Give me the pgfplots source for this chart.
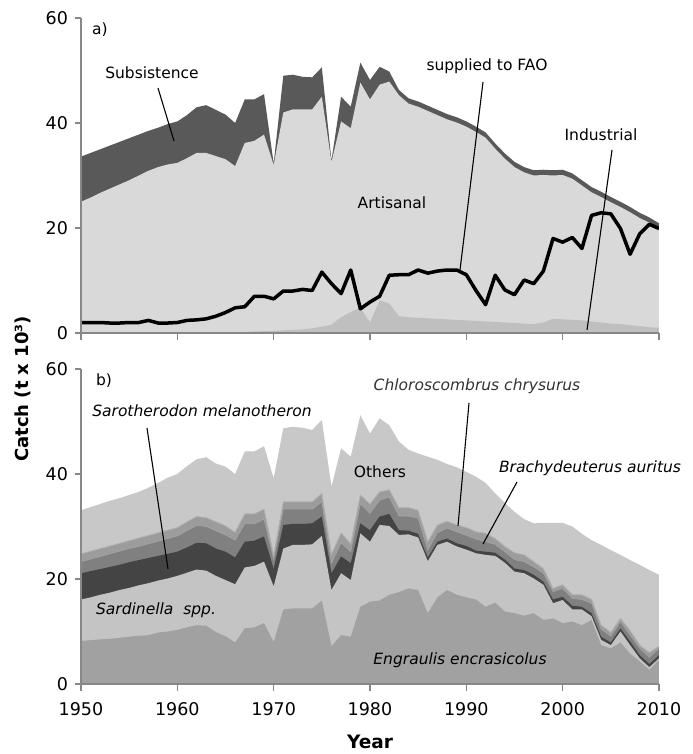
\documentclass[border=0pt]{standalone}
\usepackage{fontspec}
\setmainfont{DejaVu Sans}
\usepackage{pgfplots}
\usepackage{pgfplotstable}
\pgfplotsset{compat=1.18}

\definecolor{subs}{HTML}{595959}
\definecolor{arti}{HTML}{D9D9D9}
\definecolor{indu}{HTML}{BFBFBF}
\definecolor{oth}{HTML}{C8C8C8}
\definecolor{lgt}{HTML}{9C9C9C}
\definecolor{med}{HTML}{808080}
\definecolor{drk}{HTML}{444444}
\definecolor{sard}{HTML}{C4C4C4}
\definecolor{engr}{HTML}{A1A1A1}
\definecolor{axgray}{HTML}{878787}

\newcommand\lbl{\fontsize{15.5bp}{18bp}\selectfont}

% panel a: total, artisanal top (industrial+artisanal), industrial, supplied to FAO
\pgfplotstableread{
year T A I F
1950 33.6 25.0 0 2.0
1951 34.3 25.8 0 2.0
1952 35.0 26.7 0 2.0
1953 35.7 27.5 0 1.9
1954 36.4 28.3 0 1.9
1955 37.1 29.1 0 2.0
1956 37.8 30.0 0 2.0
1957 38.5 30.9 0 2.4
1958 39.1 31.6 0 1.9
1959 39.8 32.1 0 1.9
1960 40.3 32.4 0 2.0
1961 41.5 33.3 0 2.4
1962 43.0 34.3 0 2.5
1963 43.4 34.3 0 2.7
1964 42.5 33.7 0 3.2
1965 41.6 33.1 0.05 3.9
1966 40.0 31.8 0.1 4.8
1967 44.5 36.2 0.2 5.0
1968 44.5 36.6 0.3 7.0
1969 45.5 37.8 0.35 7.0
1970 32.3 32.0 0.4 6.5
1971 49.0 42.0 0.5 8.0
1972 49.2 42.6 0.6 8.0
1973 48.8 42.6 0.7 8.3
1974 48.7 42.6 0.9 8.1
1975 50.6 45.0 1.2 11.6
1976 32.9 32.6 1.6 9.4
1977 45.0 40.3 3.0 7.5
1978 43.1 39.0 4.0 12.0
1979 51.5 47.7 4.8 4.6
1980 48.2 44.5 2.0 5.9
1981 50.7 47.3 6.2 7.0
1982 49.8 47.9 5.6 11.0
1983 46.3 45.3 3.2 11.1
1984 44.7 43.7 3.0 11.1
1985 44.1 43.1 2.9 12.0
1986 43.3 42.3 2.8 11.4
1987 42.5 41.5 2.7 11.8
1988 41.7 40.7 2.6 12.0
1989 41.1 40.1 2.5 12.0
1990 40.3 39.3 2.4 11.1
1991 39.3 38.3 2.3 8.1
1992 38.2 37.2 2.2 5.4
1993 36.1 35.1 2.1 11.0
1994 34.2 33.2 2.0 8.2
1995 32.6 31.6 1.9 7.3
1996 31.6 30.6 1.8 10.1
1997 31.0 30.0 1.7 9.4
1998 31.1 30.1 2.0 11.8
1999 31.0 30.0 2.7 18.0
2000 31.1 30.1 2.6 17.3
2001 30.4 29.4 2.5 18.2
2002 29.1 28.1 2.4 16.1
2003 27.8 26.8 2.2 22.4
2004 26.9 25.9 2.0 22.9
2005 25.9 24.9 1.8 22.7
2006 25.0 24.0 1.7 19.9
2007 24.0 23.0 1.5 15.0
2008 22.9 21.9 1.3 18.9
2009 22.0 21.0 1.1 20.7
2010 20.9 19.9 1.0 19.9
}\tabA

% panel b: cumulative tops (Others total, Chloroscombrus, Brachydeuterus, Sarotherodon, Sardinella, Engraulis)
\pgfplotstableread{
year TB L M D Sd E
1950 33.1 24.8 23.3 21.1 16.1 8.2
1951 33.7 25.3 23.8 21.5 16.5 8.35
1952 34.3 25.8 24.3 21.9 17.0 8.5
1953 34.9 26.3 24.8 22.3 17.4 8.6
1954 35.4 26.8 25.3 22.7 17.9 8.8
1955 36.0 27.3 25.8 23.2 18.3 9.0
1956 36.6 27.8 26.2 23.6 18.8 9.2
1957 37.4 28.3 26.7 24.0 19.2 9.3
1958 38.3 28.8 27.2 24.4 19.7 9.8
1959 39.3 29.3 27.7 24.8 20.1 10.0
1960 40.0 29.8 28.2 25.2 20.6 10.3
1961 41.5 30.9 29.2 26.0 21.2 10.8
1962 42.8 31.9 30.2 26.9 21.8 11.2
1963 43.2 31.7 30.0 26.8 21.6 11.1
1964 42.0 30.9 29.2 25.8 20.6 9.9
1965 41.4 30.1 28.4 25.2 19.8 9.1
1966 40.0 28.9 27.4 24.1 19.0 7.9
1967 44.3 32.4 30.5 27.1 22.2 10.6
1968 44.3 32.4 30.5 27.3 22.5 10.8
1969 45.3 33.3 31.4 28.1 23.3 11.6
1970 39.2 24.5 23.8 21.9 18.6 8.0
1971 48.7 34.7 33.3 30.3 25.8 14.2
1972 49.0 34.7 33.3 30.5 26.5 14.4
1973 48.8 34.7 33.3 30.5 26.5 14.4
1974 48.4 34.7 33.3 30.6 26.6 14.4
1975 50.3 36.3 34.7 31.9 28.2 15.9
1976 37.6 24.7 23.0 21.1 17.9 7.2
1977 44.9 28.8 26.9 24.3 21.1 9.3
1978 43.3 26.7 25.2 23.0 19.8 9.0
1979 51.2 36.0 34.3 30.6 28.7 14.7
1980 47.7 34.3 32.5 29.3 27.1 15.7
1981 50.6 36.6 35.0 31.9 30.3 15.9
1982 49.3 37.0 35.6 32.4 30.1 17.0
1983 46.2 33.6 32.0 29.3 28.4 17.5
1984 44.6 33.6 32.0 29.2 28.5 18.2
1985 43.9 33.1 31.6 28.6 27.9 17.9
1986 43.3 27.1 25.5 24.1 23.4 13.5
1987 42.7 30.3 28.8 27.1 26.5 16.5
1988 41.9 31.0 29.7 27.7 27.1 17.9
1989 41.3 30.3 29.0 26.8 26.2 17.0
1990 40.4 29.8 28.3 26.3 25.6 16.5
1991 39.5 29.0 27.6 25.4 24.9 16.1
1992 38.3 28.7 27.1 25.2 24.6 14.7
1993 36.3 27.7 26.6 25.0 24.4 15.5
1994 34.5 26.2 25.2 23.7 23.1 13.8
1995 32.8 25.0 23.7 22.0 21.4 13.5
1996 31.4 24.6 23.3 21.7 21.1 13.0
1997 30.6 23.3 22.3 20.8 20.1 13.5
1998 30.7 22.0 21.1 19.5 18.9 12.2
1999 30.7 18.2 17.6 16.1 15.4 12.5
2000 30.7 18.9 18.2 16.6 16.0 11.6
2001 30.0 17.0 16.3 14.9 14.2 11.9
2002 28.6 17.0 16.1 14.7 14.2 11.2
2003 27.4 16.1 15.4 13.5 12.9 12.2
2004 26.5 11.2 10.4 9.0 8.4 7.4
2005 25.5 9.8 9.1 7.9 7.4 6.8
2006 24.6 12.5 11.9 10.6 10.0 7.9
2007 23.6 10.2 9.3 8.1 7.4 5.8
2008 22.7 7.4 6.8 5.5 4.9 4.3
2009 21.7 6.0 5.1 3.8 3.2 2.7
2010 20.8 7.2 6.8 5.5 4.9 4.6
}\tabB

\pgfplotsset{myax/.style={
  scale only axis, width=578bp, height=315bp,
  xmin=1950, xmax=2010, ymin=0, ymax=60,
  axis x line*=bottom, axis y line*=left,
  axis line style={axgray, line width=1.3bp, -},
  xtick={1950,1960,...,2010}, ytick={0,20,40,60},
  tick align=outside, major tick length=6.5bp,
  tick style={axgray, line width=1.3bp},
  tick label style={font=\fontsize{17.5bp}{20bp}\selectfont, black},
  yticklabel style={xshift=-3bp},
  xticklabel style={yshift=-8bp},
  /pgf/number format/assume math mode=true,
  /pgf/number format/1000 sep={},
  axis on top,
}}

\begin{document}
\begin{tikzpicture}
\path[use as bounding box] (0,0) rectangle (693bp,-754bp);

% ---------- panel a ----------
\begin{axis}[myax, at={(81bp,-333bp)}, anchor=south west, xticklabels={}]
\addplot[fill=subs, draw=none] table[x=year,y=T]{\tabA} \closedcycle;
\addplot[fill=arti, draw=none] table[x=year,y=A]{\tabA} \closedcycle;
\addplot[fill=indu, draw=none] table[x=year,y=I]{\tabA} \closedcycle;
\addplot[black, line width=3.5bp, line join=round] table[x=year,y=F]{\tabA};
\end{axis}

% ---------- panel b ----------
\begin{axis}[myax, at={(81bp,-684bp)}, anchor=south west]
\addplot[fill=oth, draw=none] table[x=year,y=TB]{\tabB} \closedcycle;
\addplot[fill=lgt, draw=none] table[x=year,y=L]{\tabB} \closedcycle;
\addplot[fill=med, draw=none] table[x=year,y=M]{\tabB} \closedcycle;
\addplot[fill=drk, draw=none] table[x=year,y=D]{\tabB} \closedcycle;
\addplot[fill=sard, draw=none] table[x=year,y=Sd]{\tabB} \closedcycle;
\addplot[fill=engr, draw=none] table[x=year,y=E]{\tabB} \closedcycle;
\addplot[color=black!30, line width=0.9bp] table[x=year,y=L]{\tabB};
\addplot[color=black!35, line width=0.6bp] table[x=year,y=M]{\tabB};
\end{axis}

% ---------- labels panel a ----------
\node[font=\lbl] at (100bp,-30bp) {a)};
\node[font=\lbl] at (152bp,-73bp) {Subsistence};
\draw[line width=1.1bp] (158bp,-88bp) -- (174bp,-141bp);
\node[font=\lbl] at (392bp,-203bp) {Artisanal};
\node[font=\lbl] at (487bp,-66bp) {supplied to FAO};
\draw[line width=1.1bp] (483bp,-82bp) -- (460bp,-270bp);
\node[font=\lbl] at (601bp,-135bp) {Industrial};
\draw[line width=1.1bp] (612bp,-150bp) -- (587bp,-330bp);

% ---------- labels panel b ----------
\node[font=\lbl] at (104bp,-381bp) {b)};
\node[font=\lbl\itshape] at (202bp,-411bp) {Sarotherodon melanotheron};
\draw[line width=1.1bp] (147bp,-428bp) -- (168bp,-569bp);
\node[font=\lbl\itshape] at (156bp,-610bp) {Sardinella\ \ spp.};
\node[font=\lbl] at (380bp,-472bp) {Others};
\node[font=\lbl\itshape, text=black!80] at (477bp,-386bp) {Chloroscombrus chrysurus};
\draw[line width=1.1bp] (469bp,-403bp) -- (458bp,-526bp);
\node[font=\lbl\itshape] at (590bp,-468bp) {Brachydeuterus auritus};
\draw[line width=1.1bp] (517bp,-482bp) -- (483bp,-544bp);
\node[font=\lbl\itshape] at (460bp,-660bp) {Engraulis encrasicolus};

% ---------- axis titles ----------
\node[font=\fontsize{18.5bp}{21bp}\selectfont\bfseries] at (370bp,-742bp) {Year};
\node[font=\fontsize{18bp}{21bp}\selectfont\bfseries, rotate=90] at (23bp,-389bp) {Catch (t x 10³)};
\end{tikzpicture}
\end{document}
